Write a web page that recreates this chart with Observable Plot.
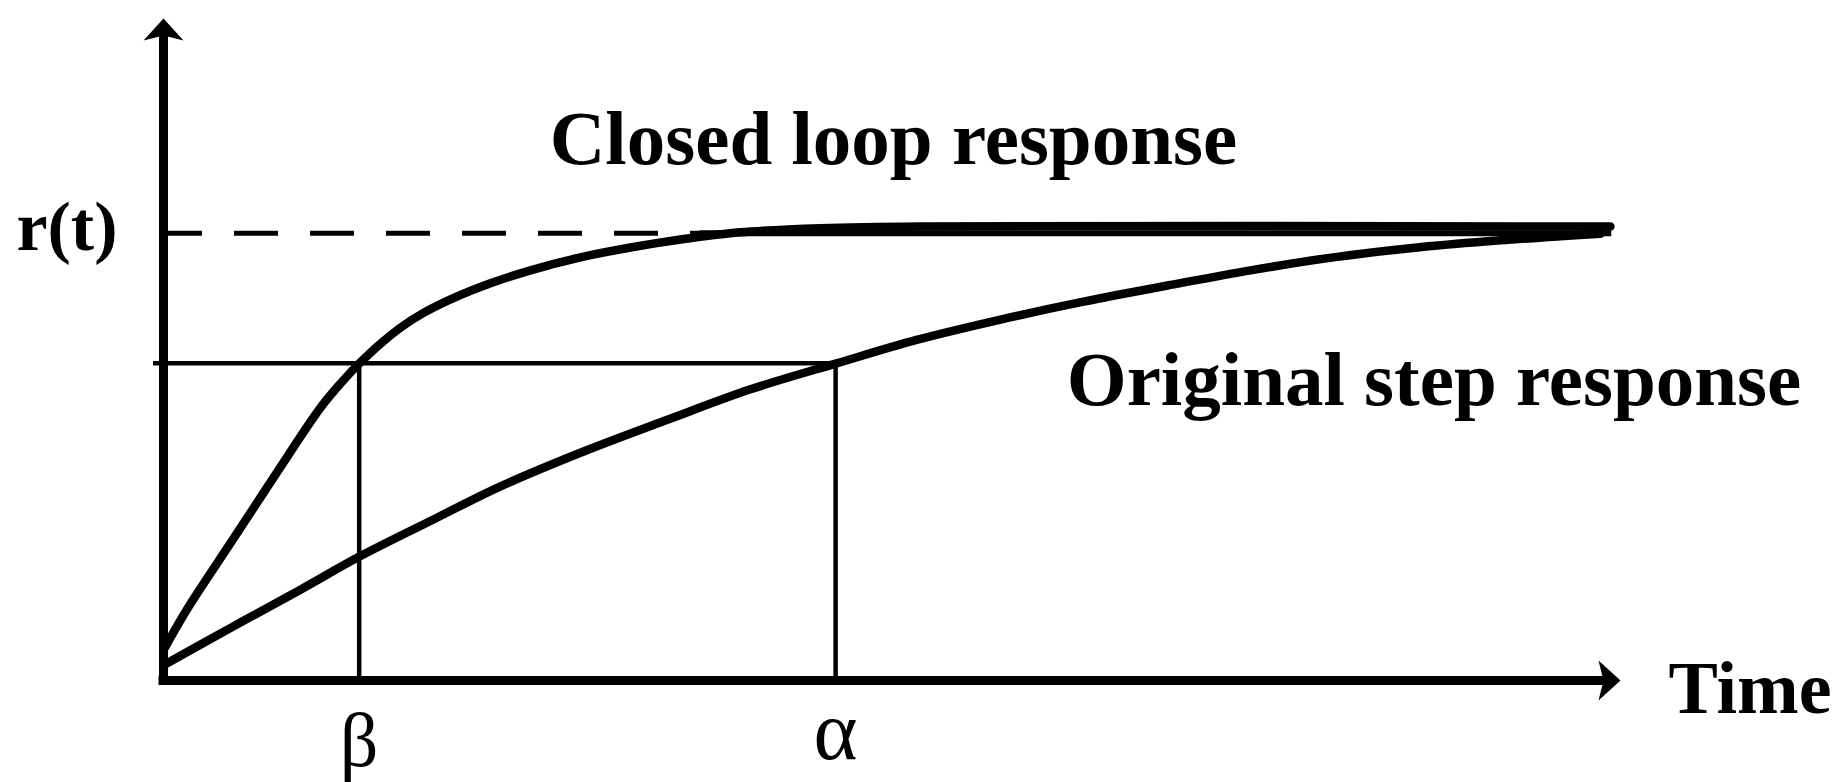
<!DOCTYPE html>
<html>
<head>
<meta charset="utf-8">
<script src="https://cdn.jsdelivr.net/npm/d3@7"></script>
<script src="https://cdn.jsdelivr.net/npm/@observablehq/plot@0.6"></script>
<style>
  html, body { margin: 0; padding: 0; background: #fff; }
  #chart svg { display: block; }
</style>
</head>
<body>
<div id="chart"></div>
<script>
// ---- data (time in arbitrary units 0..100, response normalised so r(t) = 1) ----
const closedT = [0, 1.65, 4.80, 7.82, 10.78, 12.15, 13.45, 14.89, 16.27, 17.64, 19.70, 22.44, 25.19, 28.62, 32.05, 35.48, 39.60, 45.09, 51.96, 99.31];
const closedR = [0.068, 0.161, 0.317, 0.467, 0.610, 0.664, 0.709, 0.753, 0.789, 0.818, 0.852, 0.888, 0.917, 0.946, 0.968, 0.986, 1.002, 1.011, 1.015, 1.015];

const originalT = [0, 4.80, 9.40, 13.45, 18.53, 23.13, 28.83, 34.59, 40.29, 46.19, 51.75, 57.45, 63.14, 68.91, 74.61, 80.30, 86.07, 91.76, 95.88, 98.63];
const originalR = [0.034, 0.121, 0.203, 0.277, 0.360, 0.434, 0.512, 0.583, 0.651, 0.709, 0.762, 0.807, 0.847, 0.883, 0.917, 0.946, 0.968, 0.984, 0.993, 0.999];

const referenceLevel = 1.0;      // r(t)
const markerLevel = 0.709;       // level where β and α are read
const timeMarks = [13.43, 46.13];
const timeMarkLabels = ["β", "α"];
const levelLabels = ["r(t)"];
const seriesLabels = ["Closed loop response", "Original step response"];
const axisLabels = ["Time"];
const tEnd = 100;     // x-axis arrow tip
const rTop = 1.48;    // y-axis arrow tip
const dashStop = 36.8;  // dashed part of r(t) ends where the closed loop reaches it
const levelEnd = 99.4;

// ---- build tables ----
const closed = closedT.map((t, i) => ({t, r: closedR[i]}));
const original = originalT.map((t, i) => ({t, r: originalR[i]}));
const marks = timeMarks.map((t, i) => ({t, label: timeMarkLabels[i]}));

const arrowHead = {
  draw(ctx) {
    ctx.moveTo(0, 0);
    ctx.lineTo(-22, -20);
    ctx.lineTo(-17, 0);
    ctx.lineTo(-22, 20);
    ctx.closePath();
  }
};

const serif = "'Liberation Serif', 'Times New Roman', 'DejaVu Serif', serif";

const chart = Plot.plot({
  width: 1833,
  height: 782,
  marginLeft: 163,
  marginRight: 213,
  marginTop: 18,
  marginBottom: 102,
  x: {domain: [0, tEnd], axis: null},
  y: {domain: [0, rTop], axis: null},
  style: {background: "#fff", fontFamily: serif, color: "#000", overflow: "visible"},
  marks: [
    // r(t) reference: dashed, then solid where the closed loop has settled
    Plot.ruleY([referenceLevel], {x1: 0, x2: dashStop, stroke: "#000", strokeWidth: 5, strokeDasharray: "44 32", strokeDashoffset: 5}),
    Plot.ruleY([referenceLevel], {x1: dashStop, x2: levelEnd, stroke: "#000", strokeWidth: 6}),
    // marker level line and drop lines
    Plot.ruleY([markerLevel], {x1: 0, x2: timeMarks[1], stroke: "#000", strokeWidth: 4.5, insetLeft: -10}),
    Plot.ruleX(marks, {x: "t", y1: 0, y2: markerLevel, stroke: "#000", strokeWidth: 4.5}),
    // responses
    Plot.line(original, {x: "t", y: "r", curve: "catmull-rom", stroke: "#000", strokeWidth: 8.5, strokeLinejoin: "round"}),
    Plot.line(closed, {x: "t", y: "r", curve: "catmull-rom", stroke: "#000", strokeWidth: 8.5, strokeLinejoin: "round"}),
    // axes
    Plot.ruleY([0], {x1: 0, x2: 98.8, stroke: "#000", strokeWidth: 9, strokeLinecap: "square"}),
    Plot.ruleX([0], {y1: 0, y2: 1.45, stroke: "#000", strokeWidth: 9, strokeLinecap: "square"}),
    Plot.dot([0], {x: tEnd, y: 0, symbol: arrowHead, fill: "#000", stroke: "none"}),
    Plot.dot([0], {x: 0, y: rTop, symbol: arrowHead, rotate: -90, fill: "#000", stroke: "none"}),
    // labels
    Plot.text(levelLabels, {x: 0, y: referenceLevel, text: d => d, dx: -46, dy: -6, textAnchor: "end", lineAnchor: "middle", fontSize: 70, fontWeight: "bold", fill: "#000"}),
    Plot.text(seriesLabels, {x: [50.1, 87.2], y: [1.154, 0.615], text: d => d, textAnchor: "middle", lineAnchor: "bottom", fontSize: 77, fontWeight: "bold", fill: "#000"}),
    Plot.text(axisLabels, {x: tEnd, y: 0, text: d => d, dx: 48, dy: 32, textAnchor: "start", lineAnchor: "bottom", fontSize: 74, fontWeight: "bold", fill: "#000"}),
    Plot.text(marks.slice(0, 1), {x: "t", y: 0, text: "label", dy: 85, textAnchor: "middle", lineAnchor: "bottom", fontSize: 76, fill: "#000"}),
    Plot.text(marks.slice(1), {x: "t", y: 0, text: "label", dy: 78, textAnchor: "middle", lineAnchor: "bottom", fontSize: 84, fill: "#000"})
  ]
});

document.getElementById("chart").appendChild(chart);
</script>
</body>
</html>
